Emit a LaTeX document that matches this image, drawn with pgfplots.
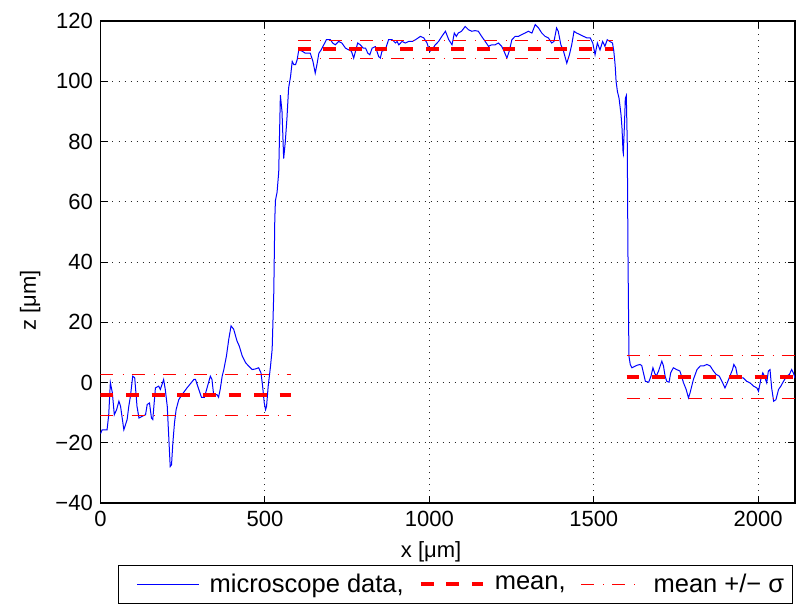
\documentclass[border=0pt]{standalone}
\usepackage{fontspec}
\setmainfont{Liberation Sans}
\usepackage{pgfplots}
\pgfplotsset{compat=1.18}

% profile of the measured step
\pgfplotstableread{
x z
0 -17
5 -15.7
20 -15.7
25 -10.7
30 0
36 -3.4
42 -10.7
49 -9
56 -6.2
61 -7.9
71 -15.7
81 -12.3
86 -7.9
91 -4.6
98 2.1
104 1.6
111 -7.9
117 -11.8
127 -11.2
137 -10.7
142 -7.3
149 -6.8
155 -11.8
159 -12.3
167 -1.8
177 -1.2
182 -2.3
192 1.0
197 -2.3
203 -7.9
208 -19
212 -27.9
216 -27.3
220 -20.1
225 -13.4
230 -9
238 -5.7
248 -4
263 -1.8
284 1
289 1
299 -2.3
307 -4.9
316 -4.9
324 -1.8
334 2.1
339 1
344 -4
354 -4
359 -4.9
364 -2.3
370 2.1
375 4.3
383 8.8
390 14.3
397 18.8
405 17.7
415 13.8
422 12.1
431 8.8
441 6.6
451 5.4
461 4.3
471 4.5
481 4.9
488 3.2
493 -1.2
498 -6.8
502 -9
505 -7.9
510 -1.2
517 5.4
522 11
527 30
530 54
532 60.4
537 63.2
542 69.9
547 95.4
552 89.9
557 74.3
562 79.9
567 87.7
572 97.7
578 101.6
583 106.6
588 105.5
593 105.5
598 107.1
603 110.4
613 110
623 109.3
638 109.3
646 106.6
653 102.7
659 106
664 109.3
671 110.4
679 112.1
687 113.8
699 113.8
706 112.7
714 112.1
724 113.2
734 112.7
745 111
755 110.4
763 110
770 107.7
778 111
782 112.7
790 112.1
799 111
806 111
813 109.3
819 108.8
826 111
836 111.5
846 108.2
851 107.7
856 110
866 110.4
876 113.8
887 113.8
897 112.7
902 113.2
907 112.1
917 113.2
927 112.7
937 113.2
948 113.2
958 113.8
973 114.9
983 114.4
993 112.7
1001 109.9
1008 110.4
1018 112.1
1028 113.2
1038 114.9
1049 116.6
1059 113.8
1069 112.1
1076 116
1082 114.9
1088 116
1098 116.6
1109 118.2
1119 117.1
1129 116.6
1139 116.8
1149 116.6
1159 114.9
1170 113.2
1180 111.6
1190 112.1
1200 112.1
1210 112.7
1220 111.6
1227 110
1236 107.7
1243 110
1251 113.8
1261 114.9
1271 114.9
1281 115.5
1291 116
1301 116.6
1312 116
1322 118.8
1332 117.7
1342 116
1352 114.9
1362 114.4
1372 112.7
1379 113.2
1387 117.7
1392 116.6
1400 112.1
1408 110
1418 106
1426 108.8
1433 112.1
1440 116.6
1448 116
1458 115.5
1469 114.9
1479 114.4
1489 114.4
1497 112.7
1504 108.8
1511 112.7
1519 110.4
1527 113.2
1534 111.6
1541 113.8
1549 113.2
1557 112.7
1561 110
1565 105.4
1568 99.9
1572 96.6
1577 94.3
1583 88.8
1586 84.3
1589 76.6
1590 76
1594 87.7
1596 94.3
1599 95.2
1602 78.8
1604 43.2
1607 8.8
1611 6.0
1616 4.9
1631 5.7
1641 6
1646 5.6
1657 0.4
1667 0.1
1674 2.1
1680 4.9
1685 3.2
1690 2.1
1697 3.8
1707 7.1
1712 5.5
1717 2.1
1722 0.4
1729 0.1
1734 3.2
1742 4.9
1752 4.3
1762 3.8
1767 2.1
1773 -0.1
1781 -2.3
1788 -5.1
1793 -3.4
1803 1
1814 4.3
1824 5.5
1834 5.5
1844 6
1854 5.5
1864 3.8
1872 2.7
1882 2.1
1892 -0.1
1899 -1.8
1906 -0.1
1914 2.1
1922 4.3
1926 6
1932 4.9
1937 2.1
1945 1.5
1955 1.5
1965 0.4
1975 -0.1
1986 -1.2
1996 -1.8
2001 -2.9
2008 1
2014 3.2
2019 2.1
2026 -0.1
2031 3.8
2036 4.3
2041 -1.8
2047 -6.2
2054 -5.7
2062 -2.3
2069 -1.2
2077 0.4
2087 2.1
2095 2.7
2102 4.3
2107 3.2
2112 1.5
}\profile

\begin{document}
\fontsize{11}{13}\selectfont
\begin{tikzpicture}
\begin{axis}[
  scale only axis,
  width=347.25pt, height=241pt,
  xmin=0, xmax=2112, ymin=-40, ymax=120,
  xtick={0,500,1000,1500,2000},
  xticklabels={0,500,1000,1500,2000},
  ytick={-40,-20,0,20,40,60,80,100,120},
  yticklabels={−40,−20,0,20,40,60,80,100,120},
  /pgf/number format/assume math mode=true,
  tick align=inside,
  major tick length=3.5pt,
  tick style={black, line width=0.5pt},
  axis line style={black, line width=0.6pt},
  grid=major,
  major grid style={black!85, line width=0.5pt, dash pattern=on 0.5pt off 2.5pt},
  xlabel={x [μm]},
  ylabel={z [μm]},
  xlabel style={at={(ticklabel cs:0.476)}},
  ylabel style={at={(ticklabel cs:0.42)}},
  unbounded coords=jump,
  legend columns=3,
  legend cell align=left,
  legend image code/.code={\path (0pt,0pt); \draw[#1] (6pt,0pt) -- (37pt,0pt);},
  legend style={
    at={(0,0)}, anchor=north west, xshift=8.75pt, yshift=-31pt,
    draw=black, line width=0.6pt, inner xsep=3pt, inner ysep=3pt,
    font=\fontsize{12.75}{15}\selectfont,
    nodes={inner sep=1pt},
    /tikz/every odd column/.append style={column sep=4pt},
    /tikz/every even column/.append style={column sep=0.5pt},
  },
]
\addplot[blue, line width=0.5pt] table[x=x, y=z] {\profile};
\addlegendentry{microscope data,}

% mean level of each plateau
\addplot[red, line width=2pt, dash pattern=on 6.4pt off 6.4pt] coordinates {
  (0,-4.1) (580,-4.1) (590,nan)
  (600,110.6) (1560,110.6) (1580,nan)
  (1600,1.8) (2112,1.8)
};
\addlegendentry{mean,}

% mean plus/minus one standard deviation
\addplot[red, line width=0.5pt, dash pattern=on 6.5pt off 4.5pt on 0.5pt off 4pt] coordinates {
  (0,2.8) (580,2.8) (590,nan)
  (0,-11.0) (580,-11.0) (590,nan)
  (600,113.5) (1560,113.5) (1580,nan)
  (600,107.7) (1560,107.7) (1580,nan)
  (1600,8.8) (2112,8.8) (2112,nan)
  (1600,-5.2) (2112,-5.2)
};
\addlegendentry{mean +/− σ}

\coordinate (sw) at (rel axis cs:0,0);
\end{axis}
\pgfresetboundingbox
\path (sw) ++(-50.25pt,-54.5pt) rectangle ++(398.5pt,306pt);
\end{tikzpicture}
\end{document}
